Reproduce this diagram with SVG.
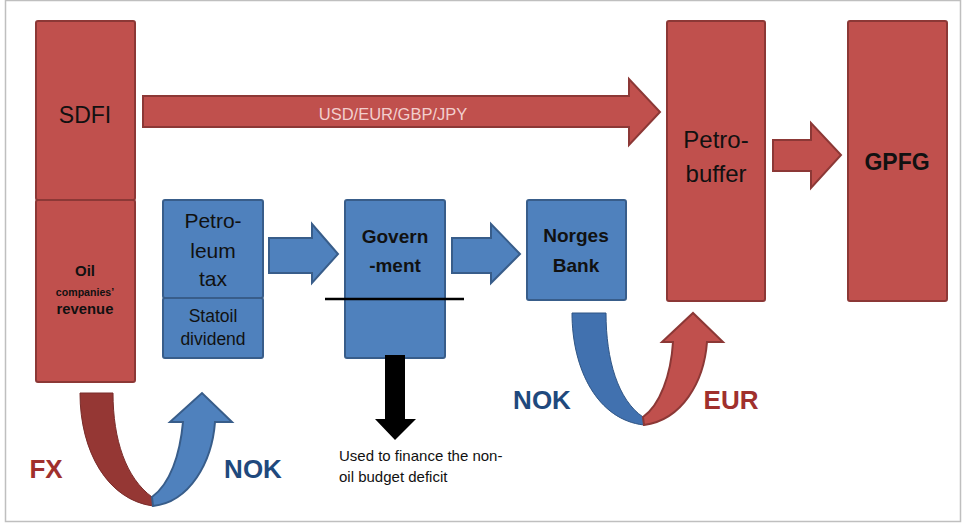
<svg xmlns="http://www.w3.org/2000/svg" width="965" height="523" viewBox="0 0 965 523">
<style>
.red{fill:#C0504D;stroke:#8C3836;stroke-width:2}
.blue{fill:#4F81BD;stroke:#385D8A;stroke-width:2}
text{font-family:"Liberation Sans",Arial,sans-serif;text-anchor:middle;fill:#111}
.b{font-weight:bold}
.lbl{font-weight:bold;font-size:26px}
</style>
<rect x="5.5" y="0.5" width="955" height="521" fill="#fff" stroke="#BFBFBF" stroke-width="1.5"/>
<g id="sdfi">
<rect class="red" x="36" y="21" width="99" height="179" rx="2"/>
<rect class="red" x="36" y="200" width="99" height="182" rx="2"/>
<text x="85" y="123" font-size="23">SDFI</text>
<text x="85" y="276" font-size="15" class="b">Oil</text>
<text x="85" y="296" font-size="10.6" class="b">companies’</text>
<text x="85" y="314" font-size="14.8" class="b">revenue</text>
</g>
<g id="petroleum-tax">
<rect class="blue" x="163" y="200" width="100" height="98" rx="2"/>
<rect class="blue" x="163" y="298" width="100" height="60" rx="2"/>
<text x="213" y="228" font-size="21">Petro-</text>
<text x="213" y="258" font-size="21">leum</text>
<text x="213" y="286" font-size="21">tax</text>
<text x="213" y="322" font-size="17.5">Statoil</text>
<text x="213" y="345" font-size="17.5">dividend</text>
</g>
<g id="government">
<rect class="blue" x="345" y="200" width="100" height="158" rx="2"/>
<text x="395" y="243" font-size="19" class="b">Govern</text>
<text x="395" y="272" font-size="19" class="b">-ment</text>
<line x1="325" y1="299" x2="464" y2="299" stroke="#000" stroke-width="2.5"/>
</g>
<g id="norges-bank">
<rect class="blue" x="527" y="200" width="99" height="100" rx="2"/>
<text x="576" y="242" font-size="19" class="b">Norges</text>
<text x="576" y="272" font-size="19" class="b">Bank</text>
</g>
<g id="petro-buffer">
<rect class="red" x="667" y="21" width="98" height="280" rx="2"/>
<text x="716" y="148" font-size="24">Petro-</text>
<text x="716" y="182" font-size="24">buffer</text>
</g>
<g id="gpfg">
<rect class="red" x="848" y="21" width="99" height="280" rx="2"/>
<text x="897" y="170" font-size="23" class="b">GPFG</text>
</g>
<g id="connectors">
<path class="red" d="M143,96 L629,96 L629,79 L660,112 L629,145 L629,127 L143,127 Z"/>
<text x="393" y="120" font-size="16.5" style="fill:#F2CFCD">USD/EUR/GBP/JPY</text>
<path class="red" d="M773,140 L811,140 L811,123 L841,155 L811,188 L811,171 L773,171 Z"/>
<path class="blue" d="M269,238 L312,238 L312,224 L338,254 L312,283 L312,273 L269,273 Z"/>
<path class="blue" d="M452,238 L491,238 L491,224 L520,254 L491,283 L491,273 L452,273 Z"/>
<path d="M385,355 L405,355 L405,419 L416,419 L395,440 L375,419 L385,419 Z" fill="#000"/>
<path d="M80,393 L113,393 C113,440 126,478 152,497 L153,506 C108,500 80,452 80,393 Z" fill="#953734" stroke="#7A2C2A" stroke-width="1"/>
<path d="M152,497 C170,484 180,455 183,422 L170,422 L202,393 L232,422 L215,422 C212,462 190,502 153,506 Z" class="blue" stroke-width="1.2"/>
<path d="M572,313 L606,313 C606,360 618,400 643,417 L644,425 C598,420 572,370 572,313 Z" fill="#4171AF" stroke="#2F5585" stroke-width="1"/>
<path d="M643,417 C660,405 671,375 673,342 L662,342 L693,313 L723,342 L707,342 C704,382 682,420 644,425 Z" class="red" stroke-width="1.2"/>
</g>
<text x="46" y="478" class="lbl" style="fill:#A0302D">FX</text>
<text x="253" y="478" class="lbl" style="fill:#1F497D">NOK</text>
<text x="542" y="409" class="lbl" style="fill:#1F497D">NOK</text>
<text x="731" y="409" class="lbl" style="fill:#A0302D">EUR</text>
<text x="339" y="461" font-size="15" style="text-anchor:start">Used to finance the non-</text>
<text x="339" y="482" font-size="15" style="text-anchor:start">oil budget deficit</text>
</svg>
